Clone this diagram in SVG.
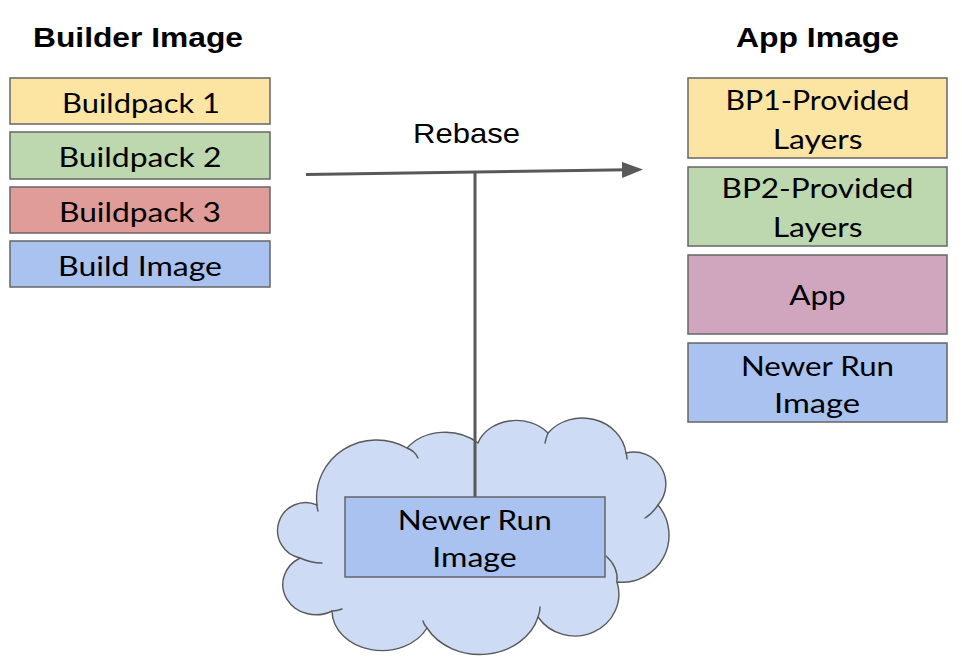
<svg xmlns="http://www.w3.org/2000/svg" width="962" height="672" viewBox="0 0 962 672">
<defs>
<style>
.box{stroke:#666;stroke-width:1.5}
.yel{fill:#fce5a3}.grn{fill:#bdd7ae}.red{fill:#e09c98}.blu{fill:#a9c2ef}.mag{fill:#cfa6bd}
.t{font-family:Lato,"Noto Sans","Liberation Sans",sans-serif;font-size:26px;fill:#000;text-anchor:middle}
.h{font-family:"Liberation Sans",Arial,sans-serif;font-size:28px;font-weight:bold;fill:#000;text-anchor:middle}
.lbl{font-family:"Liberation Sans",Arial,sans-serif;font-size:28px;fill:#000;text-anchor:middle}
.ln{fill:none;stroke:#595959;stroke-width:3}
.cl{fill:#cddbf5;stroke:#595959;stroke-width:1.4;stroke-linejoin:round}
.stub{fill:none;stroke:#595959;stroke-width:1.4;stroke-linecap:round}
</style>
<marker id="arr" markerUnits="userSpaceOnUse" markerWidth="22" markerHeight="17" refX="6" refY="8" orient="auto">
<path d="M0,0 L21,8 L0,16 Z" fill="#595959"/>
</marker>
</defs>
<rect width="962" height="672" fill="#fff"/>

<text class="h" x="138" y="47" textLength="210" lengthAdjust="spacingAndGlyphs">Builder Image</text>
<text class="h" x="817.5" y="47" textLength="163" lengthAdjust="spacingAndGlyphs">App Image</text>

<g id="buildpack1"><rect class="box yel" x="10" y="78" width="260" height="46"/><text class="t" x="141" y="112.5" textLength="158" lengthAdjust="spacingAndGlyphs">Buildpack 1</text></g>
<g id="buildpack2"><rect class="box grn" x="10" y="132" width="260" height="47"/><text class="t" x="140" y="166.5" textLength="163" lengthAdjust="spacingAndGlyphs">Buildpack 2</text></g>
<g id="buildpack3"><rect class="box red" x="10" y="187" width="260" height="46"/><text class="t" x="140" y="221.5" textLength="162" lengthAdjust="spacingAndGlyphs">Buildpack 3</text></g>
<g id="build-image"><rect class="box blu" x="10" y="241" width="260" height="46"/><text class="t" x="140" y="276" textLength="164" lengthAdjust="spacingAndGlyphs">Build Image</text></g>

<g id="bp1-layers"><rect class="box yel" x="688" y="78" width="259" height="80"/><text class="t" x="817.5" y="110" textLength="184" lengthAdjust="spacingAndGlyphs">BP1-Provided</text><text class="t" x="817.7" y="148.5" textLength="90" lengthAdjust="spacingAndGlyphs">Layers</text></g>
<g id="bp2-layers"><rect class="box grn" x="688" y="167" width="259" height="79"/><text class="t" x="817.5" y="198.3" textLength="192" lengthAdjust="spacingAndGlyphs">BP2-Provided</text><text class="t" x="817.7" y="236.7" textLength="90" lengthAdjust="spacingAndGlyphs">Layers</text></g>
<g id="app"><rect class="box mag" x="688" y="255" width="259" height="79"/><text class="t" x="817.5" y="305" textLength="56.5" lengthAdjust="spacingAndGlyphs">App</text></g>
<g id="newer-run-image-app"><rect class="box blu" x="688" y="343" width="259" height="79"/><text class="t" x="817.5" y="376" textLength="153" lengthAdjust="spacingAndGlyphs">Newer Run</text><text class="t" x="817" y="413.3" textLength="86" lengthAdjust="spacingAndGlyphs">Image</text></g>

<g id="cloud">
<path class="cl" d="M317,505 A60,58 0 0 1 407,448 A48,40 0 0 1 478,443 A40,32 0 0 1 548,433 A44,40 0 0 1 626,453 A32,32 0 0 1 658,505 A47,47 0 0 1 617,582 A44,42 0 0 1 538,617 A60,50 0 0 1 427,628 A50,40 0 0 1 332,611 A33,30 0 0 1 300,558 A28,28 0 1 1 317,505 Z"/>
<path class="stub" d="M317,505 Q317,508 318,511"/>
<path class="stub" d="M407,448 Q415,451 418,458"/>
<path class="stub" d="M548,433 Q546,438 545,443"/>
<path class="stub" d="M626,453 Q627,456 627,459"/>
<path class="stub" d="M658,505 Q652,514 645,518"/>
<path class="stub" d="M617,582 C618,572 614,563 606,556"/>
<path class="stub" d="M538,617 Q540,612 540,607"/>
<path class="stub" d="M427,628 Q424,625 423,621"/>
<path class="stub" d="M332,611 Q337,611 342,609"/>
<path class="stub" d="M300,558 Q311,563 322,563"/>
</g>

<g id="connectors">
<path class="ln" d="M306,174.5 L628,169.8" marker-end="url(#arr)"/>
<path class="ln" d="M475,172 L475,497"/>
<text class="lbl" x="466.5" y="143.3" textLength="107" lengthAdjust="spacingAndGlyphs">Rebase</text>
</g>

<g id="newer-run-image"><rect class="box blu" x="345" y="497" width="260" height="80"/><text class="t" x="474.7" y="530" textLength="154" lengthAdjust="spacingAndGlyphs">Newer Run</text><text class="t" x="474.5" y="566.7" textLength="84.4" lengthAdjust="spacingAndGlyphs">Image</text></g>
</svg>
